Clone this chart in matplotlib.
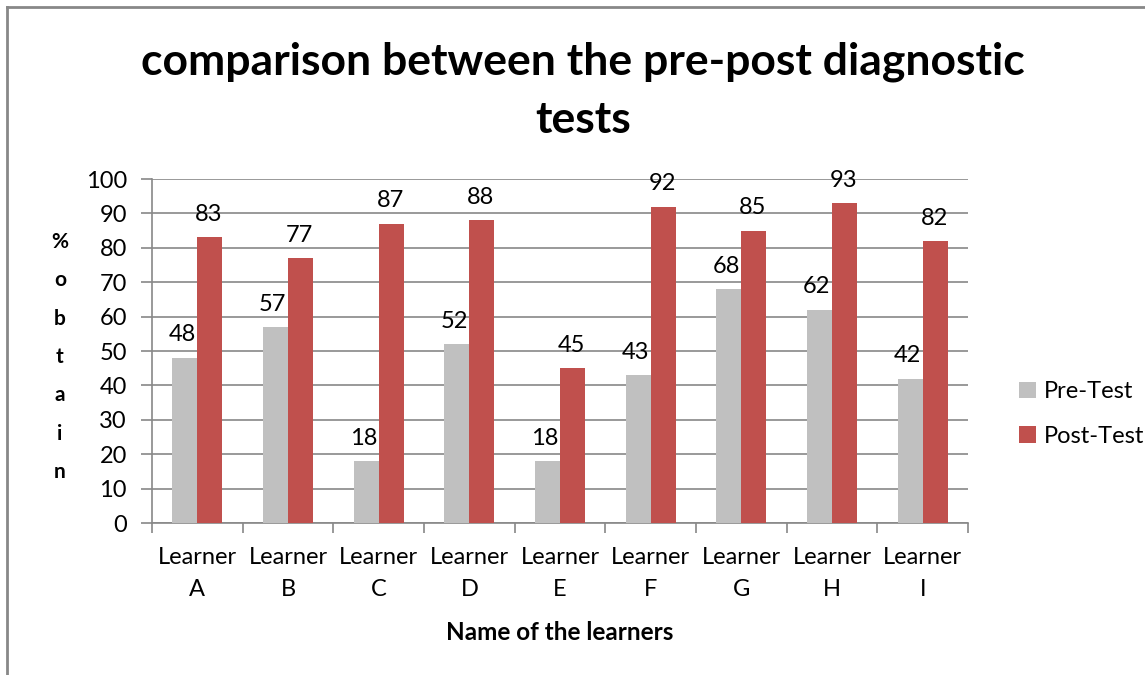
import matplotlib
matplotlib.use("Agg")
import matplotlib.pyplot as plt
import numpy as np

categories = ["Learner\nA", "Learner\nB", "Learner\nC", "Learner\nD", "Learner\nE",
              "Learner\nF", "Learner\nG", "Learner\nH", "Learner\nI"]
pre_test = [48, 57, 18, 52, 18, 43, 68, 62, 42]
post_test = [83, 77, 87, 88, 45, 92, 85, 93, 82]

plt.rcParams['font.family'] = ['Lato', 'DejaVu Sans']

fig = plt.figure(figsize=(11.45, 6.75), dpi=100)
ax = fig.add_axes([152/1145, 1-523/675, (968-152)/1145, (523-179)/675])

x = np.arange(len(categories))
w = 0.275
grey = "#c0c0c0"
red = "#c0504d"
b1 = ax.bar(x - w/2, pre_test, w, color=grey, label="Pre-Test", zorder=3)
b2 = ax.bar(x + w/2, post_test, w, color=red, label="Post-Test", zorder=3)

for xi, v in zip(x, pre_test):
    ax.text(xi - w/2 - 0.03, v + 3.6, str(v), ha="center", va="bottom", fontsize=17, zorder=4)
for xi, v in zip(x, post_test):
    ax.text(xi + w/2 - 0.01, v + 3.6, str(v), ha="center", va="bottom", fontsize=17, zorder=4)

ax.set_xlim(-0.5, len(categories) - 0.5)
ax.set_ylim(0, 100)
ax.set_yticks(np.arange(0, 101, 10))
ax.yaxis.grid(True, color="#888888", linewidth=1.2, zorder=0)
ax.set_axisbelow(True)
ax.set_xticks(x)
ax.set_xticklabels(categories, fontsize=17, linespacing=1.65)
ax.set_xticks(np.arange(-0.5, len(categories)), minor=True)
ax.tick_params(axis="x", which="major", length=0, pad=17)
ax.tick_params(axis="x", which="minor", length=7, color="#888888", width=1.2)
ax.tick_params(axis="y", length=8, color="#888888", width=1.2, labelsize=17, pad=10)
for s in ["top", "right"]:
    ax.spines[s].set_visible(False)
for s in ["left", "bottom"]:
    ax.spines[s].set_color("#888888")
    ax.spines[s].set_linewidth(1.2)

fig.text(583/1145, 1-62/675, "comparison between the pre-post diagnostic", ha="center", va="center",
         fontsize=32, fontweight="bold")
fig.text(583/1145, 1-120/675, "tests", ha="center", va="center", fontsize=32, fontweight="bold")

fig.text(60/1145, 1-357/675, "%\no\nb\nt\na\ni\nn", ha="center", va="center", fontsize=15,
         fontweight="bold", linespacing=2.15)
fig.text(560/1145, 1-632/675, "Name of the learners", ha="center", va="center", fontsize=17.5,
         fontweight="bold")

leg = fig.legend(handles=[b1, b2], loc="center left", bbox_to_anchor=(998/1145, 1-414/675),
                 frameon=False, fontsize=17, handlelength=0.7, handleheight=0.7,
                 handletextpad=0.35, labelspacing=1.0)

fig.add_artist(plt.Line2D([7/1145, 1.0], [1-7/675, 1-7/675], transform=fig.transFigure,
                          color="#888888", linewidth=2))
fig.add_artist(plt.Line2D([7/1145, 7/1145], [0, 1-7/675], transform=fig.transFigure,
                          color="#888888", linewidth=2))

fig.savefig("out.png", dpi=100)
